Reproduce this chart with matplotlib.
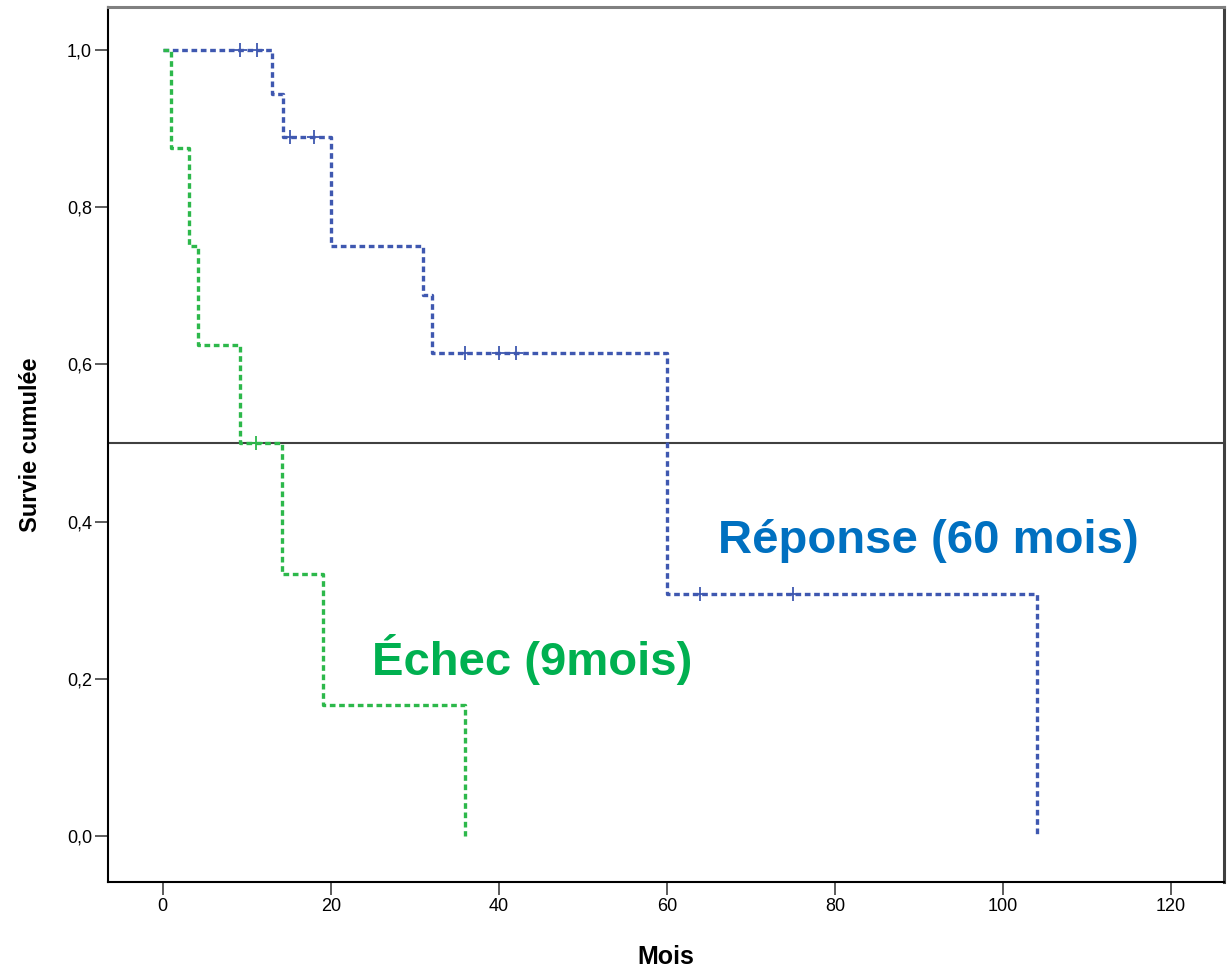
import numpy as np
import matplotlib
matplotlib.use("Agg")
import matplotlib.pyplot as plt

# Courbes de Kaplan-Meier
# Groupe réponse (bleu)
t_rep = [0, 13, 14.3, 20, 31, 32, 60, 104]
s_rep = [1.0, 0.944, 0.889, 0.75, 0.688, 0.615, 0.308, 0.0]
cens_rep_t = [9.2, 11.2, 15.2, 18, 36, 40, 42, 64, 75]
cens_rep_s = [1.0, 1.0, 0.889, 0.889, 0.615, 0.615, 0.615, 0.308, 0.308]

# Groupe échec (vert)
t_ech = [0, 1, 3.2, 4.2, 9.2, 14.2, 19.1, 36]
s_ech = [1.0, 0.875, 0.75, 0.625, 0.5, 0.333, 0.167, 0.0]
cens_ech_t = [11.1]
cens_ech_s = [0.5]

yticks = [0.0, 0.2, 0.4, 0.6, 0.8, 1.0]
ytick_labels = ["0,0", "0,2", "0,4", "0,6", "0,8", "1,0"]
xticks = [0, 20, 40, 60, 80, 100, 120]

bleu = "#3F58B0"
vert = "#2DB84B"
police = "Liberation Sans"

fig = plt.figure(figsize=(12.27, 9.71), dpi=100)
ax = fig.add_axes([0.088, 0.0917, 0.9096, 0.9013])

# ligne de référence à 50 %
ax.axhline(0.5, color="#404040", linewidth=1.5, zorder=1)

ls = (0, (1.7, 1.1))
ax.plot(t_rep, s_rep, drawstyle="steps-post", color=bleu, linewidth=2.4,
        linestyle=ls, zorder=2)
ax.plot(cens_rep_t, cens_rep_s, "+", color=bleu, markersize=10,
        markeredgewidth=1.3, zorder=3)
ax.plot(t_ech, s_ech, drawstyle="steps-post", color=vert, linewidth=2.4,
        linestyle=ls, zorder=2)
ax.plot(cens_ech_t, cens_ech_s, "+", color=vert, markersize=10,
        markeredgewidth=1.3, zorder=3)

ax.text(66.1, 0.3605, "Réponse (60 mois)", color="#0070C0", fontsize=34,
        fontweight="bold", family=police, ha="left", va="baseline")
ax.text(24.9, 0.205, "Échec (9mois)", color="#00B050", fontsize=34,
        fontweight="bold", family=police, ha="left", va="baseline")

ax.set_xlim(-6.5, 126.3)
ax.set_ylim(-0.0586, 1.055)
ax.set_xticks(xticks)
ax.set_xticklabels([str(v) for v in xticks], family=police, fontsize=13)
ax.set_yticks(yticks)
ax.set_yticklabels(ytick_labels, family=police, fontsize=13)
ax.tick_params(axis="both", length=9.5, width=1.2, color="#404040", pad=2)

ax.set_xlabel("Mois", family=police, fontweight="bold", fontsize=18, labelpad=22)
ax.set_ylabel("Survie cumulée", family=police, fontweight="bold", fontsize=17,
              labelpad=18)

ax.spines["left"].set_linewidth(1.5)
ax.spines["left"].set_color("black")
ax.spines["bottom"].set_linewidth(1.5)
ax.spines["bottom"].set_color("black")
ax.spines["top"].set_linewidth(2.2)
ax.spines["top"].set_color("#808080")
ax.spines["right"].set_linewidth(2.2)
ax.spines["right"].set_color("#404040")

fig.savefig("out.png", dpi=100)
